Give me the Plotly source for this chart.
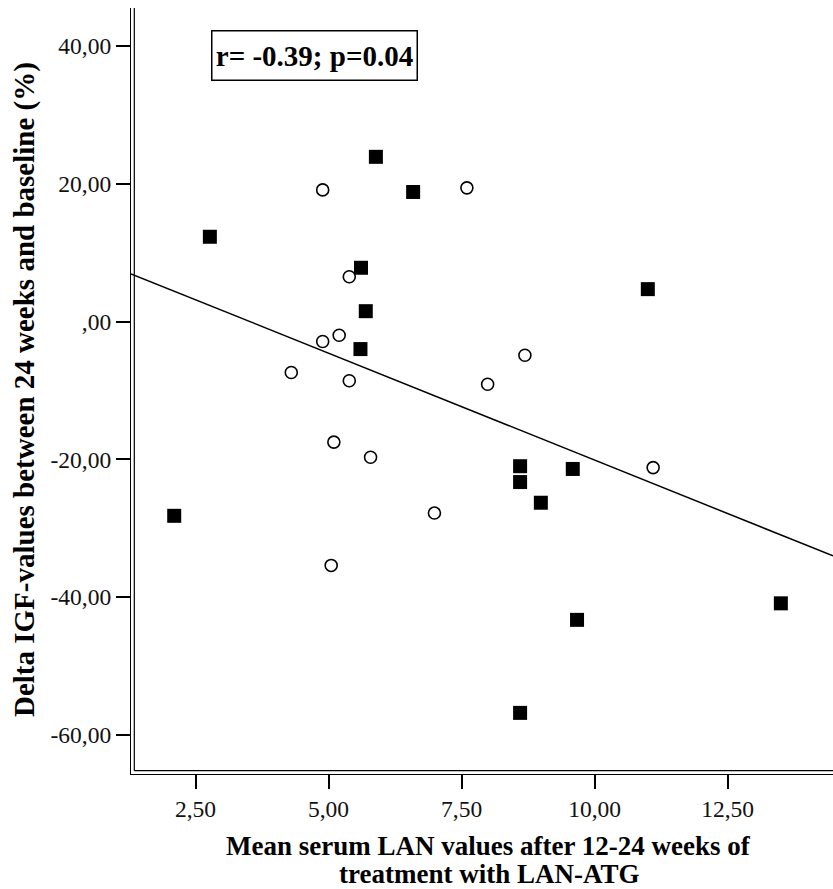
import numpy as np
import plotly.graph_objects as go

# ---- data ----
sq_x = [2.77, 5.89, 6.59, 5.61, 5.70, 5.60, 11.00, 8.60, 8.60, 9.59, 8.99, 2.10, 9.67, 13.50, 8.60]
sq_y = [12.3, 23.9, 18.8, 7.8, 1.5, -4.0, 4.7, -21.0, -23.3, -21.4, -26.3, -28.2, -43.3, -40.9, -56.8]
ci_x = [4.89, 7.60, 5.39, 5.20, 4.89, 4.30, 5.39, 8.69, 7.99, 5.10, 5.79, 11.10, 6.99, 5.05]
ci_y = [19.1, 19.4, 6.5, -2.0, -2.9, -7.4, -8.6, -4.9, -9.1, -17.5, -19.7, -21.2, -27.8, -35.4]

x_tickvals = [2.5, 5.0, 7.5, 10.0, 12.5]
x_ticktext = ["2,50", "5,00", "7,50", "10,00", "12,50"]
y_tickvals = [-60, -40, -20, 0, 20, 40]
y_ticktext = ["-60,00", "-40,00", "-20,00", ",00", "20,00", "40,00"]

x_title_lines = ["Mean serum LAN values after 12-24 weeks of", "treatment with LAN-ATG"]
y_title = "Delta IGF-values between 24 weeks and baseline (%)"
stat_text = "r= -0.39; p=0.04"

x_range = [1.288, 14.48]
y_range = [-65.67, 45.5]

# ---- figure ----
W, H = 833, 889
ML, MR, MT, MB = 131, 0, 8, 115
PW, PH = W - ML - MR, H - MT - MB

all_x = np.array(sq_x + ci_x)
all_y = np.array(sq_y + ci_y)
slope, intercept = np.polyfit(all_x, all_y, 1)
fx = np.array(x_range)
fy = slope * fx + intercept

serif = "Liberation Serif"

fig = go.Figure()
fig.add_trace(go.Scatter(x=fx, y=fy, mode="lines",
                         line=dict(color="black", width=1.5), showlegend=False, hoverinfo="skip"))
fig.add_trace(go.Scatter(x=ci_x, y=ci_y, mode="markers",
                         marker=dict(symbol="circle", size=12, color="white",
                                     line=dict(color="black", width=1.6)),
                         showlegend=False))
fig.add_trace(go.Scatter(x=sq_x, y=sq_y, mode="markers",
                         marker=dict(symbol="square", size=14, color="black",
                                     line=dict(width=0)),
                         showlegend=False))

gap = 3.3
fig.add_shape(type="line", xref="paper", yref="paper",
              x0=gap / PW, x1=gap / PW, y0=gap / PH, y1=1,
              line=dict(color="black", width=1.2))
fig.add_shape(type="line", xref="paper", yref="paper",
              x0=gap / PW, x1=1, y0=gap / PH, y1=gap / PH,
              line=dict(color="black", width=1.2))

def py(pix):
    return (MT + PH - pix) / PH

def px(pix):
    return (pix - ML) / PW

fig.add_annotation(x=px(314), y=py(56), xref="paper", yref="paper",
                   text="<b>" + stat_text + "</b>", showarrow=False,
                   font=dict(family=serif, size=29, color="black"),
                   width=202, height=46, align="center", valign="middle",
                   bordercolor="black", borderwidth=1.5, borderpad=1,
                   bgcolor="white", xanchor="center", yanchor="middle")

fig.add_annotation(x=px(488.5), y=py(845.5), xref="paper", yref="paper",
                   text="<b>" + x_title_lines[0] + "</b>", showarrow=False,
                   font=dict(family=serif, size=27, color="black"),
                   xanchor="center", yanchor="middle", borderpad=0)
fig.add_annotation(x=px(488.5), y=py(874.5), xref="paper", yref="paper",
                   text="<b>" + x_title_lines[1] + "</b>", showarrow=False,
                   font=dict(family=serif, size=27, color="black"),
                   xanchor="center", yanchor="middle", borderpad=0)
fig.add_annotation(x=px(24), y=py(390), xref="paper", yref="paper",
                   text="<b>" + y_title + "</b>", showarrow=False, textangle=-90,
                   font=dict(family=serif, size=29, color="black"),
                   xanchor="center", yanchor="middle")

axis_common = dict(showline=True, linecolor="black", linewidth=1.2,
                   ticks="outside", ticklen=14, tickwidth=1.5, tickcolor="black",
                   showgrid=False, zeroline=False,
                   tickfont=dict(family=serif, size=23.5, color="#111"))

fig.update_layout(
    width=W, height=H,
    margin=dict(l=ML, r=MR, t=MT, b=MB),
    paper_bgcolor="white", plot_bgcolor="white",
    xaxis=dict(range=x_range, tickvals=x_tickvals, ticktext=x_ticktext, **axis_common),
    yaxis=dict(range=y_range, tickvals=y_tickvals, ticktext=y_ticktext, **axis_common),
)

fig.write_html("out.html", config={"displayModeBar": False},
               post_script="document.body.style.margin='0';document.body.style.padding='0';"
                           "document.body.style.overflow='hidden';")
